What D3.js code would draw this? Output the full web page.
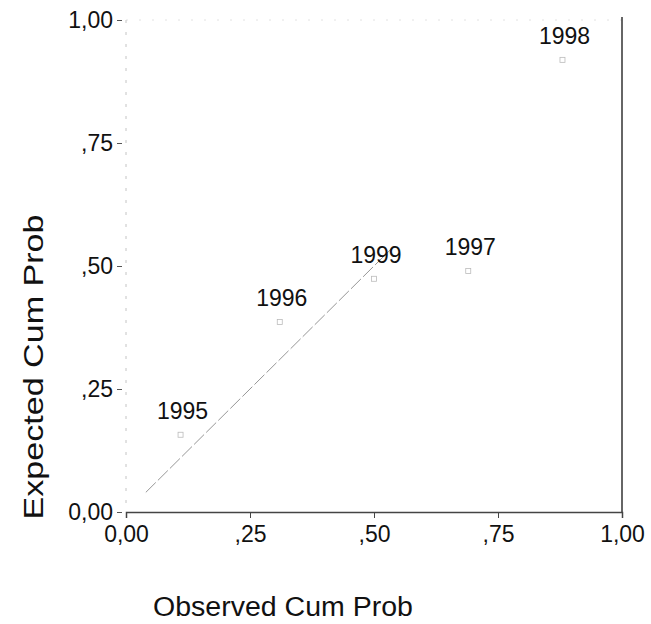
<!DOCTYPE html>
<html>
<head>
<meta charset="utf-8">
<script src="https://cdn.jsdelivr.net/npm/d3@7"></script>
<style>
  html, body { margin: 0; padding: 0; background: #fff; }
  svg { display: block; }
  text { font-family: "Liberation Sans", Arial, sans-serif; fill: #111; }
</style>
</head>
<body>
<svg id="chart" width="651" height="624"></svg>
<script>
// Data
const years = ["1995", "1996", "1999", "1997", "1998"];
const observedCumProb = [0.11, 0.31, 0.50, 0.69, 0.88];
const expectedCumProb = [0.157, 0.386, 0.474, 0.49, 0.919];
const tickValues = [0, 0.25, 0.5, 0.75, 1];
const tickLabels = ["0,00", ",25", ",50", ",75", "1,00"];
const refLine = [0.04, 0.54];   // visible part of the y = x reference line

const svg = d3.select("#chart");
const x = d3.scaleLinear().domain([0, 1]).range([126, 622]);
const y = d3.scaleLinear().domain([0, 1]).range([512, 20]);

// frame: top and left faint, right and bottom darker
svg.append("line").attr("x1", x(0)).attr("x2", x(1)).attr("y1", y(1)).attr("y2", y(1))
  .attr("stroke", "#e2e2e2").attr("stroke-width", 1).attr("stroke-dasharray", "2,11");
svg.append("line").attr("x1", x(0)).attr("x2", x(0)).attr("y1", y(1)).attr("y2", y(0))
  .attr("stroke", "#c4c4c4").attr("stroke-width", 1).attr("stroke-dasharray", "3,9");
svg.append("line").attr("x1", x(1)).attr("x2", x(1)).attr("y1", y(1) - 3).attr("y2", y(0))
  .attr("stroke", "#333").attr("stroke-width", 1.5);

// x axis
const xAxis = d3.axisBottom(x).tickValues(tickValues)
  .tickFormat((d, i) => tickLabels[i]).tickSize(6).tickPadding(8);
const gx = svg.append("g").attr("transform", `translate(0,${y(0)})`).call(xAxis);
gx.select(".domain").attr("stroke", "#444").attr("stroke-width", 1.5);
gx.selectAll(".tick line").attr("stroke", "#444");
gx.selectAll(".tick text").attr("font-size", 23).attr("fill", "#111")
  .style("font-family", "'Liberation Sans', Arial, sans-serif");

// y axis
const yAxis = d3.axisLeft(y).tickValues(tickValues)
  .tickFormat((d, i) => tickLabels[i]).tickSize(5).tickPadding(4);
const gy = svg.append("g").attr("transform", `translate(${x(0) - 4},0)`).call(yAxis);
gy.select(".domain").remove();
gy.selectAll(".tick line").attr("stroke", "#555");
gy.selectAll(".tick text").attr("font-size", 23).attr("fill", "#111")
  .style("font-family", "'Liberation Sans', Arial, sans-serif");

// reference line
svg.append("line")
  .attr("x1", x(refLine[0])).attr("y1", y(refLine[0]))
  .attr("x2", x(refLine[1])).attr("y2", y(refLine[1]))
  .attr("stroke", "#8a8a8a").attr("stroke-width", 0.9)
  .attr("stroke-dasharray", "14,3");

// points
const pts = years.map((yr, i) => ({ yr, ox: observedCumProb[i], ey: expectedCumProb[i] }));
svg.selectAll("rect.pt").data(pts).enter().append("rect")
  .attr("class", "pt")
  .attr("x", d => x(d.ox) - 2.5).attr("y", d => y(d.ey) - 2.5)
  .attr("width", 5).attr("height", 5)
  .attr("fill", "none").attr("stroke", "#bbb").attr("stroke-width", 0.8);

svg.selectAll("text.lbl").data(pts).enter().append("text")
  .attr("class", "lbl")
  .attr("x", d => x(d.ox) + 2).attr("y", d => y(d.ey) - 16)
  .attr("text-anchor", "middle").attr("font-size", 23)
  .text(d => d.yr);

// axis titles
svg.append("text").attr("x", 283).attr("y", 616)
  .attr("text-anchor", "middle").attr("font-size", 27)
  .attr("textLength", 260).attr("lengthAdjust", "spacingAndGlyphs")
  .text("Observed Cum Prob");
svg.append("text")
  .attr("transform", "translate(43,367) rotate(-90)")
  .attr("text-anchor", "middle").attr("font-size", 28)
  .attr("textLength", 305).attr("lengthAdjust", "spacingAndGlyphs")
  .text("Expected Cum Prob");
</script>
</body>
</html>
